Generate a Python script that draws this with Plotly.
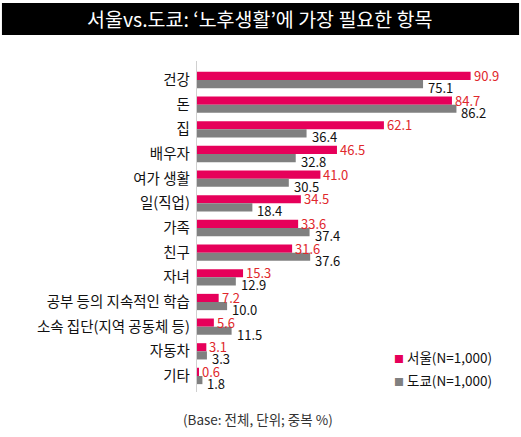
import plotly.graph_objects as go

# Data
categories = ["건강", "돈", "집", "배우자", "여가 생활", "일(직업)", "가족", "친구", "자녀",
              "공부 등의 지속적인 학습", "소속 집단(지역 공동체 등)", "자동차", "기타"]
seoul = [90.9, 84.7, 62.1, 46.5, 41.0, 34.5, 33.6, 31.6, 15.3, 7.2, 5.6, 3.1, 0.6]
tokyo = [75.1, 86.2, 36.4, 32.8, 30.5, 18.4, 37.4, 37.6, 12.9, 10.0, 11.5, 3.3, 1.8]
series_names = ["서울(N=1,000)", "도쿄(N=1,000)"]

FONT = "Noto Sans CJK KR"
PINK = "#e6005a"
GRAY = "#808080"
RED_TXT = "#e0282c"

fig = go.Figure()

fig.add_trace(go.Bar(y=categories, x=seoul, orientation="h", name=series_names[0],
                     marker=dict(color=PINK, line=dict(width=0)), showlegend=False))
fig.add_trace(go.Bar(y=categories, x=tokyo, orientation="h", name=series_names[1],
                     marker=dict(color=GRAY, line=dict(width=0)), showlegend=False))

# value labels: seoul centred on its bar, tokyo a bit below its bar
for cat, s, t in zip(categories, seoul, tokyo):
    fig.add_annotation(x=s, y=cat, text=f"{s:.1f}", showarrow=False,
                       xanchor="left", yanchor="middle", xshift=1, yshift=4.5,
                       font=dict(size=13, color=RED_TXT, family=FONT))
    fig.add_annotation(x=t, y=cat, text=f"{t:.1f}", showarrow=False,
                       xanchor="left", yanchor="middle", xshift=3, yshift=-7.5,
                       font=dict(size=13, color="#111111", family=FONT))

fig.update_layout(
    width=521, height=437,
    margin=dict(l=197, r=23, t=61, b=45),
    paper_bgcolor="white", plot_bgcolor="white",
    font=dict(family=FONT, color="#111111"),
    barmode="group", bargap=0.34, bargroupgap=0.0,
    showlegend=False,
    xaxis=dict(range=[0, 100], visible=False, fixedrange=True),
    yaxis=dict(autorange="reversed", showline=True, linecolor="#d0d0d0", linewidth=1,
               ticks="", showgrid=False, automargin=False,
               tickfont=dict(size=14.5, family=FONT, color="#111111"),
               ticksuffix=" "),
)

# black title bar
fig.add_shape(type="rect", xref="paper", yref="paper",
              x0=-0.648, x1=1.07, y0=1.0785, y1=1.175,
              fillcolor="black", line=dict(width=0), layer="above")
fig.add_annotation(text="서울vs.도쿄: ‘노후생활’에 가장 필요한 항목",
                   xref="paper", yref="paper", x=0.209, y=1.127,
                   xanchor="center", yanchor="middle", showarrow=False,
                   font=dict(size=19.5, color="white", family=FONT))

# legend drawn as text with small coloured squares
for i, (nm, col) in enumerate(zip(series_names, [PINK, GRAY])):
    fig.add_annotation(text=f"<span style='color:{col};font-size:10px'>■</span> {nm}",
                       xref="paper", yref="paper", x=0.647, y=0.1057 - i * 0.0695,
                       xanchor="left", yanchor="middle", showarrow=False,
                       font=dict(size=13.5, color="#111111", family=FONT))

# footnote
fig.add_annotation(text="(Base: 전체, 단위; 중복 %)", xref="paper", yref="paper",
                   x=0.203, y=-0.0816, xanchor="center", yanchor="middle", showarrow=False,
                   font=dict(size=13.5, color="#333333", family=FONT))

fig.write_html("out.html", config={"displayModeBar": False},
               post_script="document.body.style.margin='0';")
